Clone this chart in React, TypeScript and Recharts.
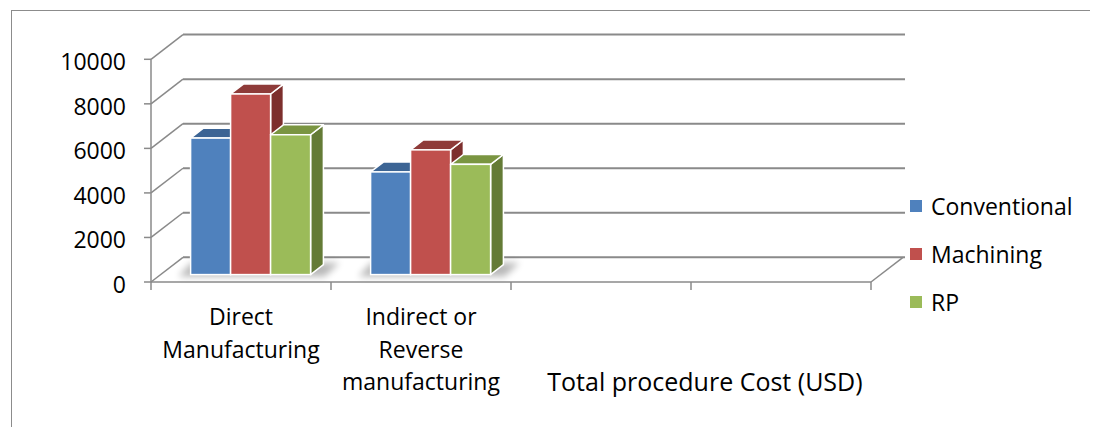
import React from 'react';
import { BarChart, Bar, XAxis, YAxis, CartesianGrid, Legend, Label } from 'recharts';

const categories = ['Direct Manufacturing', 'Indirect or Reverse manufacturing', '', ''];
const seriesNames = ['Conventional', 'Machining', 'RP'];
const conventional = [6130, 4610];
const machining = [8110, 5600];
const rp = [6280, 4950];
const yTicks = [0, 2000, 4000, 6000, 8000, 10000];
const axisTitle = 'Total procedure Cost (USD)';

const seriesValues = [conventional, machining, rp];
const data = categories.map((name, i) => {
  const row: any = { key: `c${i}`, name };
  seriesNames.forEach((s, k) => {
    row[s] = seriesValues[k][i] ?? null;
  });
  return row;
});

const FONT = "'Open Sans', sans-serif";
const FS = 23;
const AXIS = '#8a8a8a';
const DX = 32;
const DY = -24.7;
const PLANE = 0.3;
const BAR_DEPTH = 0.4;

const palettes = [
  { front: '#4F81BD', top: '#3C6494', side: '#31527A' },
  { front: '#C0504D', top: '#8E3B39', side: '#7D2F2D' },
  { front: '#9BBB59', top: '#7A9541', side: '#647B36' },
];

let measureCtx: CanvasRenderingContext2D | null = null;
const measure = (s: string) => {
  if (!measureCtx) {
    const c = document.createElement('canvas');
    measureCtx = c.getContext('2d');
  }
  if (!measureCtx) return s.length * FS * 0.55;
  measureCtx.font = `${FS}px 'Open Sans'`;
  return measureCtx.measureText(s).width;
};

const wrapWords = (text: string, maxW: number) => {
  const words = text.split(' ').filter(Boolean);
  const lines: string[] = [];
  let cur = '';
  words.forEach((w) => {
    const test = cur ? `${cur} ${w}` : w;
    if (cur && measure(test) > maxW) {
      lines.push(cur);
      cur = w;
    } else {
      cur = test;
    }
  });
  if (cur) lines.push(cur);
  return lines;
};

const makeShape = (k: number) => (props: any) => {
  const { x, y, width, height } = props;
  if (height == null || !(height > 0) || x == null) return <g />;
  const pal = palettes[k];
  const X = x + DX * PLANE;
  const Y = y + DY * PLANE;
  const w = width;
  const h = height;
  const dx = DX * BAR_DEPTH;
  const dy = DY * BAR_DEPTH;
  const B = Y + h;
  const sw = 1.5;
  const fid = `blur${Math.round(x)}`;
  const shadow = k === 0 ? (
    <g>
      <defs>
        <filter id={fid} x="-50%" y="-50%" width="200%" height="200%">
          <feGaussianBlur stdDeviation="3.5" />
        </filter>
      </defs>
      <polygon
        points={`${X - 12},${B + 2} ${X + 3 * w + 14},${B + 2} ${X + 3 * w + dx + 16},${B + dy - 2} ${X + dx - 12},${B + dy - 2}`}
        fill="#000"
        opacity={0.28}
        filter={`url(#${fid})`}
      />
    </g>
  ) : null;
  return (
    <g>
      {shadow}
      <polygon
        points={`${X + w},${Y} ${X + w + dx},${Y + dy} ${X + w + dx},${B + dy} ${X + w},${B}`}
        fill={pal.side}
        stroke="#fff"
        strokeWidth={sw}
        strokeLinejoin="round"
      />
      <polygon
        points={`${X},${Y} ${X + dx},${Y + dy} ${X + w + dx},${Y + dy} ${X + w},${Y}`}
        fill={pal.top}
        stroke="#fff"
        strokeWidth={sw}
        strokeLinejoin="round"
      />
      <rect x={X} y={Y} width={w} height={h} fill={pal.front} stroke="#fff" strokeWidth={sw} />
    </g>
  );
};

const gridLine = (p: any) => {
  const { x1, x2, y1, index } = p;
  const bx = x1 + DX;
  const by = y1 + DY;
  const isFloor =
    p.y != null && p.height != null ? Math.abs(y1 - (p.y + p.height)) < 1 : index === 0;
  return (
    <g key={`grid-${index}`}>
      <line x1={bx} y1={by} x2={x2 + DX + 2} y2={by} stroke={AXIS} strokeWidth={2} />
      <line x1={x1} y1={y1} x2={bx} y2={by} stroke={AXIS} strokeWidth={1.5} />
      {isFloor && <line x1={x2} y1={y1} x2={x2 + DX} y2={by} stroke={AXIS} strokeWidth={1.5} />}
    </g>
  );
};

const XTick = (props: any) => {
  const { x, y, payload } = props;
  const half = payload && payload.offset != null && payload.offset > 0 ? payload.offset : 90;
  const idx = payload && payload.index != null ? payload.index : props.index;
  const name = categories[idx] ?? '';
  const lines = name ? wrapWords(name, 172) : [];
  return (
    <g>
      <line x1={x - half} y1={y} x2={x - half} y2={y + 8} stroke={AXIS} strokeWidth={1.5} />
      {idx === categories.length - 1 && (
        <line x1={x + half} y1={y} x2={x + half} y2={y + 8} stroke={AXIS} strokeWidth={1.5} />
      )}
      {lines.length > 0 && (
        <text x={x} y={y + 43} textAnchor="middle" fill="#000" fontSize={FS} fontFamily={FONT}>
          {lines.map((ln, i) => (
            <tspan key={i} x={x} dy={i === 0 ? 0 : 32.5}>
              {ln}
            </tspan>
          ))}
        </text>
      )}
    </g>
  );
};

const YTick = (props: any) => {
  const { x, y, payload } = props;
  return (
    <text x={x} y={y + 11} textAnchor="end" fill="#000" fontSize={FS} fontFamily={FONT}>
      {payload.value}
    </text>
  );
};

const LegendContent = (props: any) => {
  const payload = props.payload || [];
  return (
    <div style={{ fontFamily: FONT, fontSize: FS, color: '#000' }}>
      {payload.map((item: any, i: number) => (
        <div key={i} style={{ height: 48, display: 'flex', alignItems: 'center' }}>
          <div style={{ width: 12, height: 12, background: item.color, marginRight: 9 }} />
          <span style={{ whiteSpace: 'nowrap' }}>{item.value}</span>
        </div>
      ))}
    </div>
  );
};

export default function App() {
  return (
    <div style={{ margin: -8, width: 1098, height: 435, position: 'relative', overflow: 'hidden', background: '#fff' }}>
      <div
        style={{
          position: 'absolute',
          left: 11,
          top: 10,
          width: 1100,
          height: 440,
          borderTop: '1.5px solid #8c8c8c',
          borderLeft: '1.5px solid #8c8c8c',
        }}
      />
      <BarChart
        width={1098}
        height={435}
        data={data}
        margin={{ top: 59.3, right: 227, bottom: 33, left: 71 }}
        barCategoryGap={30}
        barGap={0}
        style={{ fontFamily: FONT }}
      >
        <CartesianGrid vertical={false} horizontal={gridLine as any} />
        <XAxis
          dataKey="key"
          height={120}
          interval={0}
          tickLine={false}
          tickSize={0}
          tickMargin={0}
          axisLine={{ stroke: AXIS, strokeWidth: 1.5 }}
          tick={<XTick />}
        >
          <Label
            content={(lp: any) => {
              const vb = lp.viewBox || { x: 151, y: 282, width: 720, height: 120 };
              return (
                <text
                  x={vb.x + vb.width * 0.7694}
                  y={vb.y + 109}
                  textAnchor="middle"
                  fill="#000"
                  fontSize={25}
                  fontFamily={FONT}
                >
                  {axisTitle}
                </text>
              );
            }}
          />
        </XAxis>
        <YAxis
          width={80}
          domain={[0, 10000]}
          ticks={yTicks}
          interval={0}
          tickSize={7}
          tickMargin={18}
          axisLine={{ stroke: AXIS, strokeWidth: 1.5 }}
          tickLine={{ stroke: AXIS, strokeWidth: 1.5 }}
          tick={<YTick />}
        />
        <Legend
          layout="vertical"
          align="center"
          verticalAlign="middle"
          wrapperStyle={{ left: 910, top: 182, width: 180 }}
          content={<LegendContent />}
        />
        {seriesNames.map((s, k) => (
          <Bar
            key={s}
            dataKey={s}
            name={s}
            fill={palettes[k].front}
            legendType="square"
            shape={makeShape(k)}
            isAnimationActive={false}
          />
        ))}
      </BarChart>
    </div>
  );
}
